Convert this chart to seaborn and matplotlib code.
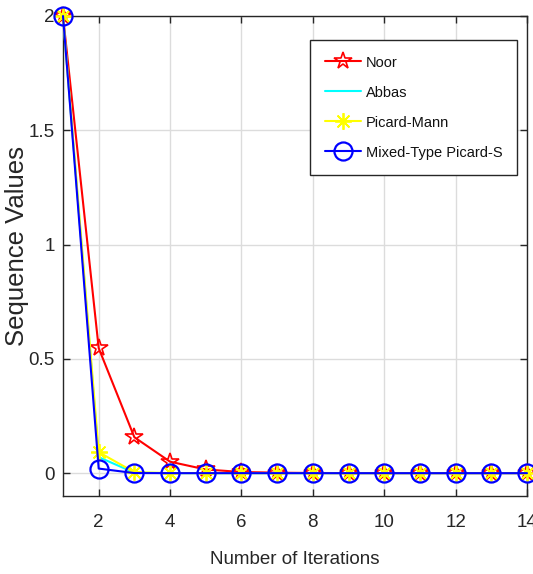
import numpy as np
import pandas as pd
import matplotlib
matplotlib.use("Agg")
import matplotlib.pyplot as plt
import seaborn as sns

iterations = list(range(1, 15))
noor = [2.0, 0.547, 0.157, 0.050, 0.016, 0.005, 0.002, 0.0007, 0.0002, 0.0001, 0.0, 0.0, 0.0, 0.0]
abbas = [2.0, 0.070, 0.002, 0.0, 0.0, 0.0, 0.0, 0.0, 0.0, 0.0, 0.0, 0.0, 0.0, 0.0]
picard_mann = [2.0, 0.092, 0.004, 0.0002, 0.0, 0.0, 0.0, 0.0, 0.0, 0.0, 0.0, 0.0, 0.0, 0.0]
mixed = [2.0, 0.020, 0.0003, 0.0, 0.0, 0.0, 0.0, 0.0, 0.0, 0.0, 0.0, 0.0, 0.0, 0.0]
series_names = ["Noor", "Abbas", "Picard-Mann", "Mixed-Type Picard-S"]
xticks = [2, 4, 6, 8, 10, 12, 14]
yticks = [0, 0.5, 1, 1.5, 2]
ytick_labels = ["0", "0.5", "1", "1.5", "2"]

sns.set_theme(style="whitegrid")
plt.rcParams['font.family'] = ['Liberation Sans', 'DejaVu Sans']

df = pd.DataFrame({
    "Iteration": iterations * 4,
    "Value": noor + abbas + picard_mann + mixed,
    "Method": sum([[n] * len(iterations) for n in series_names], []),
})

W, H = 533, 574
fig = plt.figure(figsize=(W / 100, H / 100), dpi=100)
ax = fig.add_axes([63 / W, 1 - 496 / H, (527 - 63) / W, (496 - 16) / H])

styles = {
    "Noor": dict(color="red", marker="*", ms=13, mfc="none", mew=1.2),
    "Abbas": dict(color="cyan", marker=None),
    "Picard-Mann": dict(color="yellow", marker=(8, 2, 0), ms=12, mew=1.3),
    "Mixed-Type Picard-S": dict(color="blue", marker="o", ms=13, mfc="none", mew=1.6),
}
for name in series_names:
    st = styles[name]
    sub = df[df["Method"] == name]
    sns.lineplot(data=sub, x="Iteration", y="Value", ax=ax, label=name,
                 color=st["color"], linewidth=1.5,
                 marker=st.get("marker"), markersize=st.get("ms", 6),
                 markerfacecolor=st.get("mfc", st["color"]),
                 markeredgecolor=st["color"], markeredgewidth=st.get("mew", 1),
                 clip_on=False, zorder=3)

ax.set_xlim(1, 14)
ax.set_ylim(-0.1, 2)
ax.set_xticks(xticks)
ax.set_yticks(yticks)
ax.set_yticklabels(ytick_labels)
ax.grid(True, color="#dcdcdc", linewidth=1)
for s in ax.spines.values():
    s.set_visible(True)
    s.set_color("#262626")
    s.set_linewidth(1)
ax.tick_params(direction="in", length=5, width=1, color="#262626",
               labelsize=13.5, labelcolor="#262626", top=True, right=True,
               bottom=True, left=True)
ax.tick_params(axis="x", pad=13)
ax.tick_params(axis="y", pad=6)
ax.set_xlabel("Number of Iterations", fontsize=13.5, color="#262626", labelpad=14)
ax.set_ylabel("Sequence Values", fontsize=18.5, color="#262626")
ax.yaxis.set_label_coords(-(63 - 29) / 464, 0.52)

leg = ax.legend(loc="upper left", bbox_to_anchor=((310 - 63) / 464, (496 - 40) / 480),
                fontsize=10.5, frameon=True, fancybox=False, framealpha=1,
                edgecolor="#262626", handlelength=2.5, handleheight=1.2,
                borderpad=1.0, labelspacing=1.0, handletextpad=0.35,
                borderaxespad=0)
leg.get_frame().set_linewidth(1)
for t in leg.get_texts():
    t.set_color("#111111")

fig.savefig("out.png", dpi=100)
